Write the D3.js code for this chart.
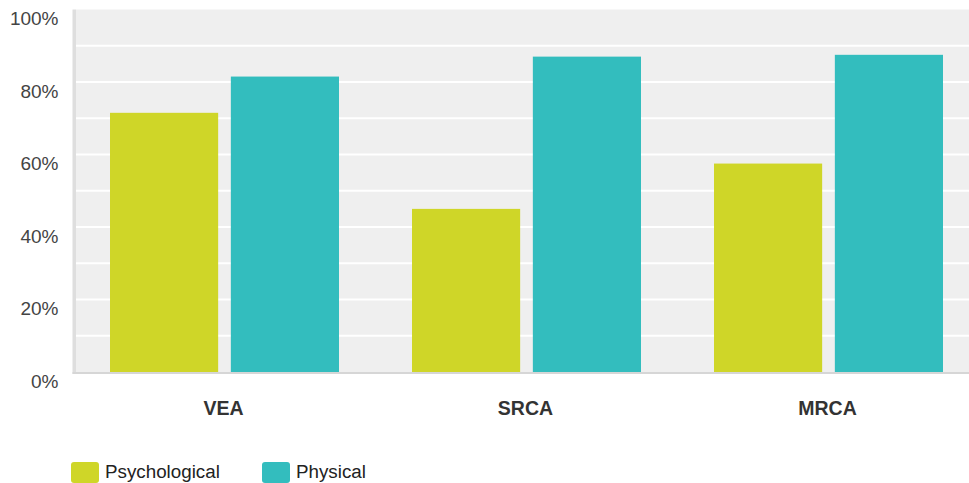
<!DOCTYPE html>
<html>
<head>
<meta charset="utf-8">
<script src="https://cdn.jsdelivr.net/npm/d3@7"></script>
<style>
html,body{margin:0;padding:0;background:#fff;overflow:hidden;}
svg{display:block;font-family:"Liberation Sans",Arial,sans-serif;}
</style>
</head>
<body>
<svg id="chart" width="969" height="483"></svg>
<script>
const categories = ["VEA", "SRCA", "MRCA"];
const seriesNames = ["Psychological", "Physical"];
const psychological = [71.5, 45, 57.5];
const physical = [81.5, 87, 87.5];
const yTicks = [0, 20, 40, 60, 80, 100];
const gridTicks = [10, 20, 30, 40, 50, 60, 70, 80, 90];
const colors = ["#cfd628", "#33bdbe"];

const svg = d3.select("#chart");
const x0 = 73.5, x1 = 979.5, yTop = 9.5, yBot = 372;

const x = d3.scaleBand().domain(categories).range([x0, x1]).paddingInner(0).paddingOuter(0);
const inner = d3.scaleBand().domain(seriesNames).range([36.5, 302 - 36.5]).paddingInner(0.105);
const y = d3.scaleLinear().domain([0, 100]).range([yBot, yTop]);

// plot background
svg.append("rect").attr("x", 76).attr("y", yTop).attr("width", 969 - 76).attr("height", yBot - yTop).attr("fill", "#efefef");
// left border
svg.append("rect").attr("x", 72.5).attr("y", yTop).attr("width", 3.5).attr("height", yBot - yTop + 2).attr("fill", "#dedede");

// grid
svg.append("g").selectAll("line").data(gridTicks).join("line")
  .attr("x1", 76).attr("x2", 969)
  .attr("y1", d => y(d)).attr("y2", d => y(d))
  .attr("stroke", "#ffffff").attr("stroke-width", 2);

// bars
const data = categories.map((c, i) => ({cat: c, vals: [psychological[i], physical[i]]}));
const g = svg.append("g").selectAll("g").data(data).join("g")
  .attr("transform", d => `translate(${x(d.cat)},0)`);
g.selectAll("rect").data(d => d.vals.map((v, j) => ({name: seriesNames[j], v, j}))).join("rect")
  .attr("x", d => inner(d.name))
  .attr("width", inner.bandwidth())
  .attr("y", d => y(d.v))
  .attr("height", d => yBot - y(d.v))
  .attr("fill", d => colors[d.j]);

// bottom axis line
svg.append("rect").attr("x", 72.5).attr("y", yBot).attr("width", 969 - 72.5).attr("height", 2).attr("fill", "#d6d6d6");

// y labels
svg.append("g").selectAll("text").data(yTicks).join("text")
  .attr("x", 58.5).attr("y", d => y(d) + 15.5)
  .attr("text-anchor", "end")
  .attr("font-size", 19).attr("fill", "#444")
  .text(d => d + "%");

// x labels
svg.append("g").selectAll("text").data(categories).join("text")
  .attr("x", d => x(d) + x.bandwidth() / 2 - 1).attr("y", 415)
  .attr("text-anchor", "middle")
  .attr("font-size", 19.5).attr("font-weight", "bold").attr("fill", "#333")
  .text(d => d);

// legend
const legX = [71, 262];
const leg = svg.append("g").selectAll("g").data(seriesNames).join("g")
  .attr("transform", (d, i) => `translate(${legX[i]},462)`);
leg.append("rect").attr("width", 28).attr("height", 21).attr("rx", 3).attr("fill", (d, i) => colors[i]);
leg.append("text").attr("x", 34).attr("y", 15.5).attr("font-size", 18.8).attr("fill", "#222").text(d => d);
</script>
</body>
</html>
